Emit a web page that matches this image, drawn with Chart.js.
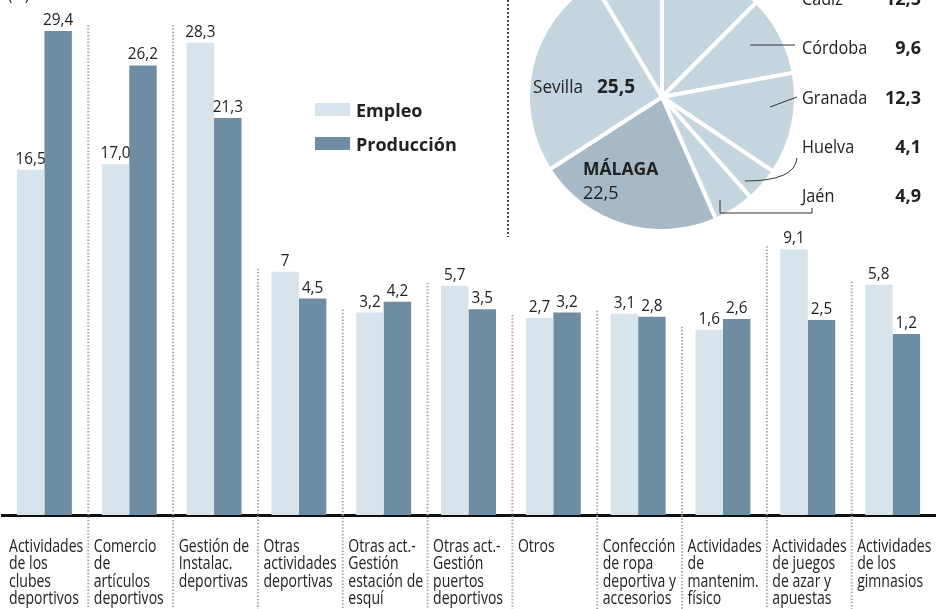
<!DOCTYPE html>
<html><head><meta charset="utf-8">
<script src="https://cdn.jsdelivr.net/npm/chart.js@4.4.1/dist/chart.umd.min.js"></script>
<style>
html,body{margin:0;padding:0;background:#fff;overflow:hidden;width:936px;height:609px;}
#wrap{position:relative;width:936px;height:609px;overflow:hidden;background:#fff;}
#bars{position:absolute;left:0;top:0;}
#pie{position:absolute;left:526px;top:-39px;}
</style></head><body>
<div id="wrap">
<canvas id="bars" width="936" height="609"></canvas>
<canvas id="pie" width="410" height="300"></canvas>
</div>
<script>
// ---- data ----
const categories = [
  ['Actividades','de los','clubes','deportivos'],
  ['Comercio','de','artículos','deportivos'],
  ['Gestión de','Instalac.','deportivas'],
  ['Otras','actividades','deportivas'],
  ['Otras act.-','Gestión','estación de','esquí'],
  ['Otras act.-','Gestión','puertos','deportivos'],
  ['Otros'],
  ['Confección','de ropa','deportiva y','accesorios'],
  ['Actividades','de','mantenim.','físico'],
  ['Actividades','de juegos','de azar y','apuestas'],
  ['Actividades','de los','gimnasios']
];
const empleo = [16.5, 17.0, 28.3, 7, 3.2, 5.7, 2.7, 3.1, 1.6, 9.1, 5.8];
const produccion = [29.4, 26.2, 21.3, 4.5, 4.2, 3.5, 3.2, 2.8, 2.6, 2.5, 1.2];
const empleoText = ['16,5','17,0','28,3','7','3,2','5,7','2,7','3,1','1,6','9,1','5,8'];
const seriesNames = ['Empleo', 'Producción'];
const unitLabel = '(%)';
const provincias = ['Almería','Cádiz','Córdoba','Granada','Huelva','Jaén','Málaga','Sevilla'];
const provValores = [8.6, 12.5, 9.6, 12.3, 4.1, 4.9, 22.5, 25.5];
const yMin = -15.64, yMax = 32.29;

const FONT = "'Open Sans', 'Noto Sans', sans-serif";
const fmt = v => v.toFixed(1).replace('.', ',');
const TXT = '#222';

// draw text with horizontal condensing (still real text)
function txt(ctx, s, x, y, font, align, sx) {
  ctx.save();
  ctx.font = font;
  ctx.textAlign = align || 'left';
  ctx.textBaseline = 'alphabetic';
  ctx.translate(x, y);
  ctx.scale(sx || 1, 1);
  ctx.fillText(s, 0, 0);
  ctx.restore();
}

const barPlugin = {
  id: 'barDecor',
  afterDraw(chart) {
    const ctx = chart.ctx;
    const xs = chart.scales.x, ys = chart.scales.y;
    const area = chart.chartArea;
    const catW = (area.right - area.left) / categories.length;
    ctx.save();
    // separators
    ctx.strokeStyle = '#a8a8a8';
    ctx.lineWidth = 2;
    ctx.setLineDash([1.5, 1.8]);
    const topAll = ys.getPixelForValue(Math.max(...produccion)) - 6;
    for (let i = 1; i < categories.length; i++) {
      const bx = xs.getPixelForValue(i) - catW / 2 + 1.5;
      const top = i < 3 ? topAll : ys.getPixelForValue(empleo[i]) - 3;
      ctx.beginPath();
      ctx.moveTo(bx, top);
      ctx.lineTo(bx, chart.height);
      ctx.stroke();
    }
    ctx.setLineDash([]);
    ctx.fillStyle = TXT;
    // value labels
    const vf = '17px ' + FONT;
    const m0 = chart.getDatasetMeta(0), m1 = chart.getDatasetMeta(1);
    m0.data.forEach((b, i) => txt(ctx, empleoText[i], b.x, b.y - 6, vf, 'center', 0.9));
    m1.data.forEach((b, i) => txt(ctx, fmt(produccion[i]), b.x, b.y - 6, vf, 'center', 0.9));
    // category labels
    const cf = '18px ' + FONT;
    categories.forEach((lines, i) => {
      const lx = xs.getPixelForValue(i) - catW / 2 + 7;
      lines.forEach((t, j) => txt(ctx, t, lx, area.bottom + 37 + j * 17.3, cf, 'left', 0.78));
    });
    // unit
    txt(ctx, unitLabel, 8, 0, '15px ' + FONT, 'left');
    // legend
    const ds = chart.data.datasets;
    ds.forEach((d, k) => {
      const y = 103 + k * 34;
      ctx.fillStyle = d.backgroundColor;
      ctx.fillRect(315, y, 35, 13);
      ctx.fillStyle = TXT;
      txt(ctx, d.label, 356, y + 14, 'bold 18px ' + FONT, 'left');
    });
    // pie divider
    ctx.strokeStyle = '#444';
    ctx.lineWidth = 2;
    ctx.setLineDash([2, 2]);
    ctx.beginPath();
    ctx.moveTo(508, 0);
    ctx.lineTo(508, 237);
    ctx.stroke();
    ctx.restore();
  }
};

new Chart(document.getElementById('bars'), {
  type: 'bar',
  data: {
    labels: categories.map(c => c.join(' ')),
    datasets: [
      { label: seriesNames[0], data: empleo, backgroundColor: '#d8e4ec', base: yMin,
        categoryPercentage: 0.648, barPercentage: 1.0 },
      { label: seriesNames[1], data: produccion, backgroundColor: '#6f8da2', base: yMin,
        categoryPercentage: 0.648, barPercentage: 1.0 }
    ]
  },
  options: {
    responsive: false, animation: false, devicePixelRatio: 1,
    layout: { padding: { left: 2, right: 1, top: 0, bottom: 94 } },
    plugins: { legend: { display: false }, tooltip: { enabled: false } },
    scales: {
      x: { type: 'category', offset: true,
        grid: { display: false, drawTicks: false },
        ticks: { display: false },
        border: { display: true, color: '#111', width: 3 } },
      y: { display: false, min: yMin, max: yMax }
    }
  },
  plugins: [barPlugin]
});

const piePlugin = {
  id: 'pieDecor',
  afterDraw(chart) {
    const ctx = chart.ctx;
    const a = chart.getDatasetMeta(0).data[0];
    const cx = a.x, cy = a.y;
    ctx.save();
    ctx.fillStyle = TXT;
    const nf = '18px ' + FONT, bf = 'bold 18px ' + FONT;
    // right-side labels: Cádiz .. Jaén
    for (let k = 0; k < 5; k++) {
      const idx = k + 1;
      const y = cy - 92 + k * 49.3;
      txt(ctx, provincias[idx], cx + 140, y, nf, 'left', 0.9);
      txt(ctx, fmt(provValores[idx]), cx + 259, y, bf, 'right');
    }
    // inside labels
    txt(ctx, provincias[7], cx - 129, cy - 4, nf, 'left', 0.95);
    txt(ctx, fmt(provValores[7]), cx - 65, cy - 4, 'bold 19px ' + FONT, 'left');
    txt(ctx, provincias[6].toUpperCase(), cx - 79, cy + 78, 'bold 17.5px ' + FONT, 'left');
    txt(ctx, fmt(provValores[6]), cx - 79, cy + 102, '18px ' + FONT, 'left');
    // leader lines
    ctx.strokeStyle = '#333';
    ctx.lineWidth = 1;
    ctx.beginPath();
    ctx.moveTo(cx + 88, cy - 52); ctx.lineTo(cx + 133, cy - 52);
    ctx.moveTo(cx + 108, cy + 10); ctx.lineTo(cx + 135, cy);
    ctx.moveTo(cx + 83, cy + 84); ctx.quadraticCurveTo(cx + 133, cy + 84, cx + 135, cy + 61);
    ctx.moveTo(cx + 58, cy + 103); ctx.lineTo(cx + 58, cy + 116);
    ctx.lineTo(cx + 150, cy + 116); ctx.lineTo(cx + 150, cy + 111);
    ctx.stroke();
    ctx.restore();
  }
};

new Chart(document.getElementById('pie'), {
  type: 'pie',
  data: {
    labels: provincias,
    datasets: [{
      data: provValores,
      backgroundColor: provincias.map(p => p === 'Málaga' ? '#a7b9c7' : '#c5d5e0'),
      borderColor: '#ffffff', borderWidth: 4
    }]
  },
  options: {
    responsive: false, animation: false, devicePixelRatio: 1,
    rotation: -31,
    layout: { padding: { left: 0, right: 138, top: 0, bottom: 28 } },
    plugins: { legend: { display: false }, tooltip: { enabled: false } }
  },
  plugins: [piePlugin]
});
</script>
</body></html>
